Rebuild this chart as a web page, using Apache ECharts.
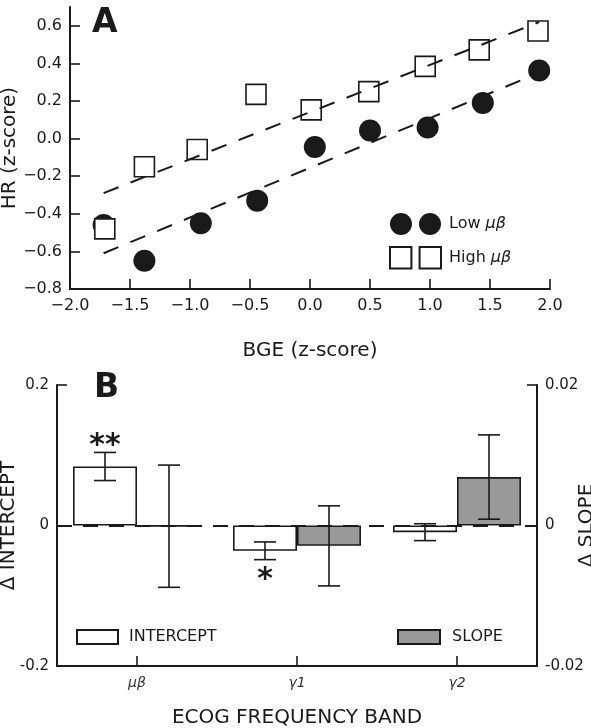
<!DOCTYPE html>
<html><head><meta charset="utf-8">
<script src="https://cdn.jsdelivr.net/npm/echarts@6/dist/echarts.min.js"></script>
<style>html,body{margin:0;padding:0;background:#fff}#c{width:591px;height:728px}</style>
</head><body><div id="c"></div>
<script>
// ---- Panel A data ----
var lowX  = [-1.72, -1.38, -0.91, -0.44, 0.04, 0.50, 0.98, 1.44, 1.91];
var lowY  = [-0.46, -0.65, -0.45, -0.33, -0.045, 0.043, 0.059, 0.19, 0.362];
var highX = [-1.71, -1.38, -0.94, -0.45, 0.01, 0.49, 0.96, 1.41, 1.90];
var highY = [-0.48, -0.15, -0.058, 0.235, 0.153, 0.25, 0.384, 0.472, 0.572];
var lowFitX = [-1.72, 1.91];  var lowFitY = [-0.61, 0.35];
var highFitX = [-1.72, 1.91]; var highFitY = [-0.29, 0.62];
var aYTicks = [-0.8, -0.6, -0.4, -0.2, 0.0, 0.2, 0.4, 0.6];
// ---- Panel B data ----
var bands = ['μβ', 'γ1', 'γ2'];
var intercept = [0.084, -0.036, -0.0095];
var interceptErr = [0.020, 0.0126, 0.012];
var slope = [-0.0001, -0.0029, 0.0069];
var slopeErr = [0.0087, 0.0057, 0.0060];
var stars = ['**', '*', ''];
var bLeftTicks = [-0.2, 0, 0.2];
var bRightTicks = [-0.02, 0, 0.02];

var FONT = 'DejaVu Sans';
var INK = '#1a1a1a';
function zip(a, b) { return a.map(function (v, i) { return [v, b[i]]; }); }
function minusFmt(v) { return v.toFixed(1).replace('-', '\u2212'); }

var interceptErrData = intercept.map(function (v, i) { return [i, v - interceptErr[i], v + interceptErr[i]]; });
var slopeErrData = slope.map(function (v, i) { return [i, v - slopeErr[i], v + slopeErr[i]]; });

function errRender(sign, withStars) {
  return function (params, api) {
    var c = api.value(0), lo = api.value(1), hi = api.value(2);
    var pHi = api.coord([c, hi]), pLo = api.coord([c, lo]);
    var band = api.size([1, 0])[0];
    var x = pHi[0] + sign * band * 0.2;
    var cap = 11;
    var st = { stroke: INK, lineWidth: 1.6 };
    var ch = [
      { type: 'line', shape: { x1: x, y1: pHi[1], x2: x, y2: pLo[1] }, style: st },
      { type: 'line', shape: { x1: x - cap, y1: pHi[1], x2: x + cap, y2: pHi[1] }, style: st },
      { type: 'line', shape: { x1: x - cap, y1: pLo[1], x2: x + cap, y2: pLo[1] }, style: st }
    ];
    if (withStars && stars[params.dataIndex]) {
      var mid = (lo + hi) / 2;
      var ty = mid > 0 ? pHi[1] - 6 : pLo[1] + 21;
      ch.push({ type: 'text', style: { text: stars[params.dataIndex], x: x, y: ty, align: 'center', verticalAlign: 'middle', font: 'bold 30px ' + FONT, fill: INK } });
    }
    return { type: 'group', children: ch };
  };
}

var axisLineStyle = { color: INK, width: 2 };
var nameStyle = { fontSize: 20, color: INK, fontFamily: FONT };
var option = {
  animation: false,
  backgroundColor: '#fff',
  textStyle: { fontFamily: FONT, color: INK },
  grid: [
    { left: 70, top: 7, width: 480, height: 282, outerBoundsMode: 'none', containLabel: false },
    { left: 57, top: 385, width: 480, height: 281, outerBoundsMode: 'none', containLabel: false }
  ],
  xAxis: [
    { type: 'value', gridIndex: 0, min: -2, max: 2, interval: 0.5,
      axisLine: { show: true, onZero: false, lineStyle: axisLineStyle },
      axisTick: { show: true, inside: true, length: 10, lineStyle: { color: INK, width: 1.6 } },
      axisLabel: { formatter: minusFmt, fontSize: 16, color: INK, margin: 9, fontFamily: FONT },
      splitLine: { show: false },
      name: 'BGE (z-score)', nameLocation: 'middle', nameGap: 52, nameMoveOverlap: false,
      nameTextStyle: nameStyle },
    { type: 'category', gridIndex: 1, data: bands,
      axisLine: { show: true, onZero: false, lineStyle: axisLineStyle },
      axisTick: { show: true, inside: true, length: 10, alignWithLabel: true, lineStyle: { color: INK, width: 1.6 } },
      axisLabel: { fontSize: 14, fontStyle: 'italic', color: '#333', margin: 10, fontFamily: FONT },
      splitLine: { show: false },
      name: 'ECOG FREQUENCY BAND', nameLocation: 'middle', nameGap: 42, nameMoveOverlap: false,
      nameTextStyle: nameStyle }
  ],
  yAxis: [
    { type: 'value', gridIndex: 0, min: -0.8, max: 0.7,
      axisLine: { show: true, onZero: false, lineStyle: axisLineStyle },
      axisTick: { show: true, inside: true, length: 10, customValues: aYTicks, lineStyle: { color: INK, width: 1.6 } },
      axisLabel: { customValues: aYTicks, formatter: minusFmt, fontSize: 16, color: INK, margin: 8, fontFamily: FONT },
      splitLine: { show: false },
      name: 'HR (z-score)', nameLocation: 'middle', nameGap: 50, nameRotate: 90, nameMoveOverlap: false,
      nameTextStyle: nameStyle },
    { type: 'value', gridIndex: 1, min: -0.2, max: 0.2, position: 'left',
      axisLine: { show: true, onZero: false, lineStyle: axisLineStyle },
      axisTick: { show: true, inside: true, length: 10, customValues: [0.2], lineStyle: { color: INK, width: 1.6 } },
      axisLabel: { customValues: bLeftTicks, formatter: function (v) { return v === 0 ? '0' : v.toFixed(1); }, fontSize: 15, color: INK, margin: 8, fontFamily: FONT },
      splitLine: { show: false },
      name: '\u0394 INTERCEPT', nameLocation: 'middle', nameGap: 38, nameRotate: 90, nameMoveOverlap: false,
      nameTextStyle: nameStyle },
    { type: 'value', gridIndex: 1, min: -0.02, max: 0.02, position: 'right',
      axisLine: { show: true, onZero: false, lineStyle: axisLineStyle },
      axisTick: { show: true, inside: true, length: 10, customValues: [0.02], lineStyle: { color: INK, width: 1.6 } },
      axisLabel: { customValues: bRightTicks, formatter: function (v) { return v === 0 ? '0' : v.toFixed(2); }, fontSize: 15, color: INK, margin: 8, fontFamily: FONT },
      splitLine: { show: false },
      name: '\u0394 SLOPE', nameLocation: 'middle', nameGap: 40, nameRotate: 90, nameMoveOverlap: false,
      nameTextStyle: nameStyle }
  ],
  legend: [
    { orient: 'vertical', left: 389, top: 213, padding: 0, itemGap: 11, itemWidth: 51, itemHeight: 22,
      selectedMode: false,
      data: [
        { name: 'Low μβ', icon: 'path://M0,11 A11,11 0 1,1 22,11 A11,11 0 1,1 0,11 Z M29,11 A11,11 0 1,1 51,11 A11,11 0 1,1 29,11 Z' },
        { name: 'High μβ', icon: 'path://M0,0 L21,0 L21,21 L0,21 Z M29,0 L50,0 L50,21 L29,21 Z' }
      ],
      formatter: function (n) { return n.replace('μβ', '{i|μβ}'); },
      textStyle: { fontSize: 16, color: INK, fontFamily: FONT, padding: [0, 0, 0, 3],
        rich: { i: { fontStyle: 'italic', fontSize: 16, fontFamily: FONT, color: INK } } } },
    { left: 76, top: 629, padding: 0, itemWidth: 41, itemHeight: 14, icon: 'rect', selectedMode: false,
      data: ['INTERCEPT'], textStyle: { fontSize: 16, color: INK, fontFamily: FONT, padding: [0, 0, 0, 6] } },
    { left: 397, top: 629, padding: 0, itemWidth: 42, itemHeight: 14, icon: 'rect', selectedMode: false,
      data: ['SLOPE'], textStyle: { fontSize: 16, color: INK, fontFamily: FONT, padding: [0, 0, 0, 7] } }
  ],
  graphic: [
    { type: 'text', left: 92, top: 7, style: { text: 'A', font: 'bold 33px ' + FONT, fill: INK } },
    { type: 'text', left: 94, top: 372, style: { text: 'B', font: 'bold 33px ' + FONT, fill: INK } }
  ],
  series: [
    { name: 'Low μβ', type: 'scatter', xAxisIndex: 0, yAxisIndex: 0, z: 2,
      data: zip(lowX, lowY), symbol: 'circle', symbolSize: 22,
      itemStyle: { color: INK, opacity: 1 } },
    { name: 'High μβ', type: 'scatter', xAxisIndex: 0, yAxisIndex: 0, z: 3,
      data: zip(highX, highY), symbol: 'rect', symbolSize: 20,
      itemStyle: { color: '#fff', borderColor: INK, borderWidth: 1.6, opacity: 1 } },
    { name: 'fitLow', type: 'line', xAxisIndex: 0, yAxisIndex: 0, z: 4, data: zip(lowFitX, lowFitY),
      showSymbol: false, symbol: 'none', lineStyle: { color: INK, width: 2, type: [16, 13] } },
    { name: 'fitHigh', type: 'line', xAxisIndex: 0, yAxisIndex: 0, z: 4, data: zip(highFitX, highFitY),
      showSymbol: false, symbol: 'none', lineStyle: { color: INK, width: 2, type: [16, 13] } },
    { name: 'zero', type: 'line', xAxisIndex: 1, yAxisIndex: 1, z: 1, data: [],
      markLine: { z: 1, silent: true, symbol: ['none', 'none'], label: { show: false },
        data: [{ yAxis: 0 }], lineStyle: { color: INK, width: 2, type: [15, 11] } } },
    { name: 'INTERCEPT', type: 'bar', xAxisIndex: 1, yAxisIndex: 1, z: 2, data: intercept,
      barWidth: 64, barGap: '0%', itemStyle: { color: '#fff', borderColor: INK, borderWidth: 1.6 } },
    { name: 'SLOPE', type: 'bar', xAxisIndex: 1, yAxisIndex: 2, z: 2, data: slope,
      barWidth: 64, barGap: '0%', itemStyle: { color: '#999999', borderColor: INK, borderWidth: 1.6 } },
    { name: 'errI', type: 'custom', xAxisIndex: 1, yAxisIndex: 1, z: 6, data: interceptErrData,
      encode: { x: 0, y: [1, 2] }, renderItem: errRender(-1, true) },
    { name: 'errS', type: 'custom', xAxisIndex: 1, yAxisIndex: 2, z: 6, data: slopeErrData,
      encode: { x: 0, y: [1, 2] }, renderItem: errRender(1, false) }
  ]
};
var chart = echarts.init(document.getElementById('c'), null, { renderer: 'canvas' });
chart.setOption(option);
</script></body></html>
